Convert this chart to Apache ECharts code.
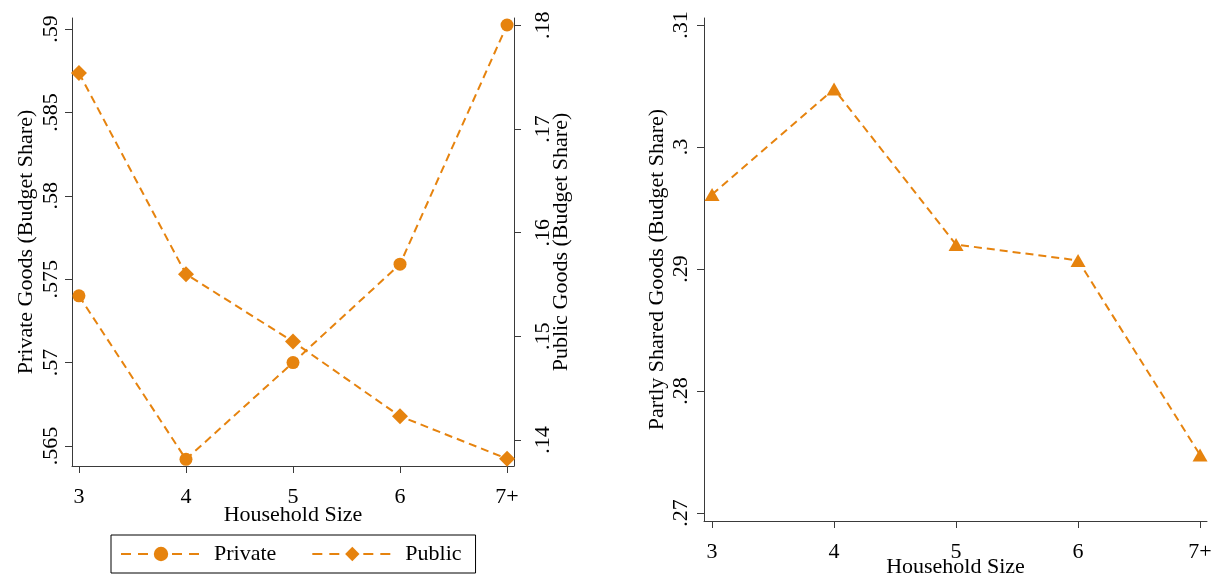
<!DOCTYPE html>
<html>
<head>
<meta charset="utf-8">
<script src="https://cdn.jsdelivr.net/npm/echarts@6/dist/echarts.min.js"></script>
<style>
html,body{margin:0;padding:0;background:#fff;}
#c{width:1213px;height:578px;}
</style>
</head>
<body>
<div id="c"></div>
<script>
// ---- data ----
var xVals = [3, 4, 5, 6, 7];
var xLabels = ['3', '4', '5', '6', '7+'];
var privateVals = [0.5740, 0.5642, 0.5700, 0.5759, 0.59024];
var publicVals = [0.1754, 0.1560, 0.1495, 0.1423, 0.1382];
var sharedVals = [0.2961, 0.30475, 0.2920, 0.2907, 0.27475];
var privateTicks = [0.565, 0.57, 0.575, 0.58, 0.585, 0.59];
var publicTicks = [0.14, 0.15, 0.16, 0.17, 0.18];
var sharedTicks = [0.27, 0.28, 0.29, 0.30, 0.31];

var ORANGE = '#E6830E';
var AXIS = '#3a3a3a';
var FONT = 'Liberation Serif';

function fmtY(v) {
  var s = String(+(+v).toFixed(4));
  return s.replace(/^0\./, '.');
}
function fmtX(v) {
  var i = xVals.indexOf(Math.round(v));
  return i >= 0 ? xLabels[i] : '';
}
function pairs(vals) { return xVals.map(function (x, i) { return [x, vals[i]]; }); }

var txt = { fontFamily: FONT, fontSize: 22, color: '#000' };

function xAxisCfg(grid, min, max, nameGap, margin) {
  return {
    type: 'value', gridIndex: grid, min: min, max: max,
    name: 'Household Size', nameLocation: 'middle', nameGap: nameGap,
    nameMoveOverlap: false,
    nameTextStyle: Object.assign({ verticalAlign: 'top' }, txt),
    axisLine: { show: true, onZero: false, lineStyle: { color: AXIS, width: 1 } },
    axisTick: { show: true, length: 7, lineStyle: { color: AXIS }, customValues: xVals },
    axisLabel: Object.assign({ margin: margin, formatter: fmtX, customValues: xVals }, txt),
    splitLine: { show: false }
  };
}
function yAxisCfg(grid, pos, min, max, ticks, name, nameGap, margin) {
  return {
    type: 'value', gridIndex: grid, position: pos, min: min, max: max,
    name: name, nameLocation: 'middle', nameGap: nameGap, nameRotate: 90,
    nameMoveOverlap: false,
    nameTextStyle: txt,
    axisLine: { show: true, onZero: false, lineStyle: { color: AXIS, width: 1 } },
    axisTick: { show: true, length: 7, lineStyle: { color: AXIS }, customValues: ticks },
    axisLabel: Object.assign({ rotate: 90, margin: margin, formatter: fmtY, customValues: ticks }, txt),
    splitLine: { show: false }
  };
}

var lineStyle = { color: ORANGE, width: 2, type: [8, 5] };

var option = {
  backgroundColor: '#fff',
  animation: false,
  grid: [
    { left: 72, right: 1213 - 514, top: 18, bottom: 578 - 466, outerBoundsMode: 'none', containLabel: false },
    { left: 704, right: 1213 - 1207, top: 18, bottom: 578 - 521, outerBoundsMode: 'none', containLabel: false }
  ],
  xAxis: [
    xAxisCfg(0, 2.935, 7.065, 38, 20),
    xAxisCfg(1, 2.934, 7.057, 35, 20)
  ],
  yAxis: [
    yAxisCfg(0, 'left', 0.5638, 0.59066, privateTicks, 'Private Goods (Budget Share)', 35, 10),
    yAxisCfg(0, 'right', 0.1375, 0.1807, publicTicks, 'Public Goods (Budget Share)', 36, 18),
    yAxisCfg(1, 'left', 0.26934, 0.31057, sharedTicks, 'Partly Shared Goods (Budget Share)', 36, 12)
  ],
  legend: {
    left: 111, top: 535,
    padding: [8, 14, 8, 9],
    borderColor: '#000', borderWidth: 1,
    itemWidth: 80, itemHeight: 18, itemGap: 35,
    lineStyle: { type: [10, 7], width: 2 },
    textStyle: Object.assign({ padding: [0, 0, 0, 8] }, txt),
    data: ['Private', 'Public']
  },
  series: [
    {
      name: 'Private', type: 'line', xAxisIndex: 0, yAxisIndex: 0,
      data: pairs(privateVals), symbol: 'circle', symbolSize: 13,
      lineStyle: lineStyle, itemStyle: { color: ORANGE }, clip: false
    },
    {
      name: 'Public', type: 'line', xAxisIndex: 0, yAxisIndex: 1,
      data: pairs(publicVals), symbol: 'diamond', symbolSize: 16,
      lineStyle: lineStyle, itemStyle: { color: ORANGE }, clip: false
    },
    {
      name: 'Shared', type: 'line', xAxisIndex: 1, yAxisIndex: 2,
      data: pairs(sharedVals), symbol: 'triangle', symbolSize: [15, 13],
      lineStyle: lineStyle, itemStyle: { color: ORANGE }, clip: false
    }
  ]
};

var chart = echarts.init(document.getElementById('c'), null, { renderer: 'canvas' });
chart.setOption(option);
</script>
</body>
</html>
